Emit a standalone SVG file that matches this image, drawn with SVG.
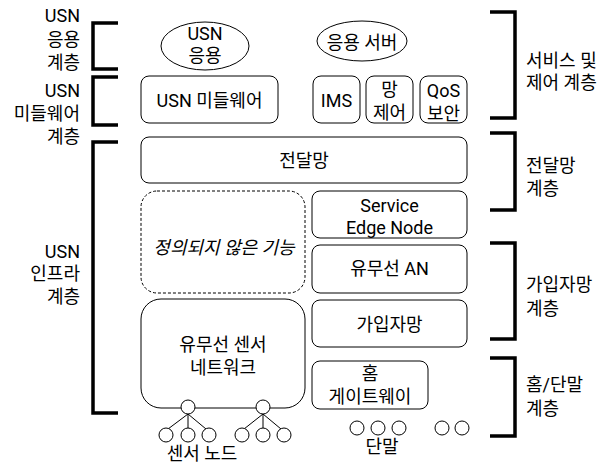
<svg xmlns="http://www.w3.org/2000/svg" width="599" height="466" viewBox="0 0 599 466">
<style>
text{font-family:Roboto,"Noto Sans CJK KR",sans-serif;font-size:18px;fill:#000;dominant-baseline:central}
.c{text-anchor:middle}
.r{text-anchor:end}
.box{fill:#fff;stroke:#000;stroke-width:1}
.dash{fill:#fff;stroke:#000;stroke-width:1;stroke-dasharray:3 2}
.br{fill:none;stroke:#000;stroke-width:3.5}
.ln{fill:none;stroke:#000;stroke-width:1}
.dot{fill:#fff;stroke:#000;stroke-width:1}
</style>
<g id="brackets">
<path class="br" d="M118,23 H93 V69 H118"/>
<path class="br" d="M118,77 H93 V125 H118"/>
<path class="br" d="M118,142 H93 V413 H118"/>
<path class="br" d="M490,12 H515 V118 H490"/>
<path class="br" d="M490,133 H515 V210 H490"/>
<path class="br" d="M490,243 H515 V339 H490"/>
<path class="br" d="M490,358 H515 V436 H490"/>
</g>
<g id="layer-labels">
<text class="r"><tspan x="80" y="15">USN</tspan><tspan x="80" y="39">응용</tspan><tspan x="80" y="62">계층</tspan></text>
<text class="r"><tspan x="80" y="90">USN</tspan><tspan x="80" y="113">미들웨어</tspan><tspan x="80" y="136">계층</tspan></text>
<text class="r"><tspan x="80" y="251">USN</tspan><tspan x="80" y="273">인프라</tspan><tspan x="80" y="296">계층</tspan></text>
<text><tspan x="526" y="60">서비스 및</tspan><tspan x="526" y="82">제어 계층</tspan></text>
<text><tspan x="526" y="165">전달망</tspan><tspan x="526" y="188">계층</tspan></text>
<text><tspan x="526" y="284">가입자망</tspan><tspan x="526" y="308">계층</tspan></text>
<text><tspan x="526" y="384">홈/단말</tspan><tspan x="526" y="408">계층</tspan></text>
</g>
<g id="usn-app"><ellipse class="box" cx="205" cy="46" rx="44" ry="24"/><text class="c"><tspan x="205" y="33">USN</tspan><tspan x="205" y="55">응용</tspan></text></g>
<g id="app-server"><ellipse class="box" cx="362" cy="41" rx="45" ry="20"/><text class="c" x="362" y="42">응용 서버</text></g>
<g id="usn-mw"><rect class="box" x="141" y="76" width="137" height="47" rx="8"/><text class="c" x="209.5" y="100">USN 미들웨어</text></g>
<g id="ims"><rect class="box" x="313" y="76" width="47" height="47" rx="8"/><text class="c" x="336.5" y="100">IMS</text></g>
<g id="net-ctrl"><rect class="box" x="366" y="76" width="47" height="47" rx="8"/><text class="c"><tspan x="389.5" y="89">망</tspan><tspan x="389.5" y="112">제어</tspan></text></g>
<g id="qos"><rect class="box" x="420" y="76" width="47" height="47" rx="8"/><text class="c"><tspan x="443.5" y="90">QoS</tspan><tspan x="443.5" y="113">보안</tspan></text></g>
<g id="transport"><rect class="box" x="141" y="137" width="326" height="46" rx="8"/><text class="c" x="304" y="160">전달망</text></g>
<g id="undefined"><rect class="dash" x="141" y="191" width="164" height="102" rx="16"/><text class="c" x="224" y="247" font-style="italic" font-size="17">정의되지 않은 기능</text></g>
<g id="sen"><rect class="box" x="312" y="191" width="155" height="47" rx="8"/><text class="c"><tspan x="389.5" y="205">Service</tspan><tspan x="389.5" y="227">Edge Node</tspan></text></g>
<g id="an"><rect class="box" x="312" y="245" width="155" height="48" rx="8"/><text class="c" x="389.5" y="268">유무선 AN</text></g>
<g id="subscriber"><rect class="box" x="312" y="300" width="155" height="47" rx="8"/><text class="c" x="389.5" y="324">가입자망</text></g>
<g id="sensor-net"><rect class="box" x="141" y="299" width="164" height="109" rx="20"/><text class="c"><tspan x="223" y="344">유무선 센서</tspan><tspan x="223" y="367">네트워크</tspan></text></g>
<g id="home-gw"><rect class="box" x="312" y="361" width="116" height="48" rx="8"/><text class="c"><tspan x="370" y="373">홈</tspan><tspan x="370" y="396">게이트웨이</tspan></text></g>
<g id="connectors">
<path class="ln" d="M188,414 L168,429 M188,414 V428 M188,414 L206,429"/>
<path class="ln" d="M263,414 L244,429 M263,414 V428 M263,414 L281,429"/>
</g>
<g id="sensor-nodes">
<circle class="dot" cx="188" cy="407" r="7"/><circle class="dot" cx="263" cy="407" r="7"/>
<circle class="dot" cx="166" cy="435" r="7"/><circle class="dot" cx="188" cy="435" r="7"/><circle class="dot" cx="209" cy="435" r="7"/>
<circle class="dot" cx="242" cy="435" r="7"/><circle class="dot" cx="263" cy="435" r="7"/><circle class="dot" cx="284" cy="435" r="7"/>
<text class="c" x="202" y="453">센서 노드</text>
</g>
<g id="terminals">
<circle class="dot" cx="357" cy="428" r="7"/><circle class="dot" cx="378" cy="428" r="7"/><circle class="dot" cx="399" cy="428" r="7"/>
<circle class="dot" cx="442" cy="428" r="7"/><circle class="dot" cx="462" cy="428" r="7"/>
<text class="c" x="382" y="446">단말</text>
</g>
</svg>
